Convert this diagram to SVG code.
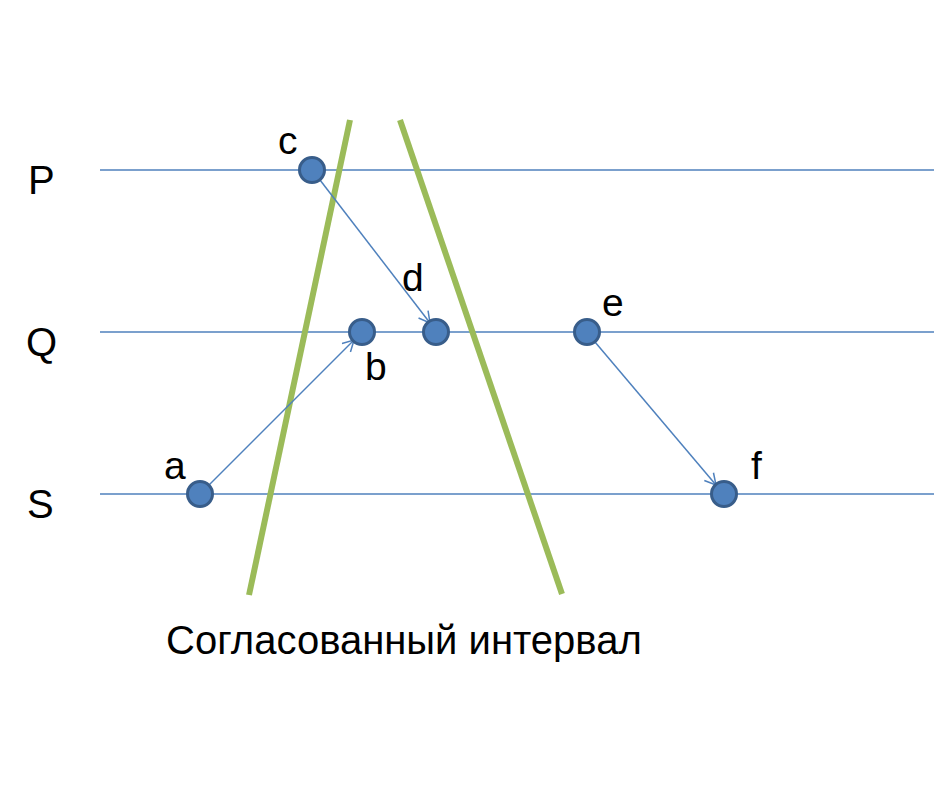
<svg xmlns="http://www.w3.org/2000/svg" width="934" height="796" viewBox="0 0 934 796">
<style>
.lane{stroke:#4F81BD;stroke-width:1.5;fill:none}
.cut{stroke:#9BBB59;stroke-width:6;stroke-linecap:butt;fill:none}
.msg{stroke:#4F81BD;stroke-width:1.5;fill:none;marker-end:url(#ah)}
.ev{fill:#4F81BD;stroke:#385D8A;stroke-width:3}
text{font-family:"Liberation Sans",Arial,sans-serif;fill:#000}
.lbl{font-size:39px}
.proc{font-size:40px}
</style>
<defs>
<marker id="ah" markerWidth="14" markerHeight="14" refX="12" refY="7" orient="auto" markerUnits="userSpaceOnUse">
<path d="M1,1 L12,7 L1,13" fill="none" stroke="#4F81BD" stroke-width="1.5"/>
</marker>
</defs>
<g id="lanes">
<line class="lane" x1="100" y1="170" x2="934" y2="170"/>
<line class="lane" x1="100" y1="332" x2="934" y2="332"/>
<line class="lane" x1="100" y1="494" x2="934" y2="494"/>
<text class="proc" x="28" y="194">P</text>
<text class="proc" x="26" y="356">Q</text>
<text class="proc" x="27" y="518">S</text>
</g>
<g id="cut">
<line class="cut" x1="350" y1="120" x2="249" y2="595"/>
<line class="cut" x1="400" y1="120" x2="562" y2="594"/>
<text x="166" y="654" style="font-size:40px">Согласованный интервал</text>
</g>
<g id="connectors">
<line class="msg" x1="320" y1="180" x2="430" y2="323"/>
<line class="msg" x1="208" y1="486" x2="354" y2="340"/>
<line class="msg" x1="595" y1="342" x2="716" y2="485"/>
</g>
<g id="node-c"><circle class="ev" cx="312" cy="170" r="12.5"/><text class="lbl" x="278" y="154">c</text></g>
<g id="node-d"><circle class="ev" cx="436" cy="332" r="12.5"/><text class="lbl" x="402" y="291">d</text></g>
<g id="node-b"><circle class="ev" cx="362" cy="332" r="12.5"/><text class="lbl" x="365" y="380">b</text></g>
<g id="node-e"><circle class="ev" cx="587" cy="332" r="12.5"/><text class="lbl" x="602" y="316">e</text></g>
<g id="node-a"><circle class="ev" cx="200" cy="494" r="12.5"/><text class="lbl" x="164" y="479">a</text></g>
<g id="node-f"><circle class="ev" cx="724" cy="494" r="12.5"/><text class="lbl" x="751" y="479">f</text></g>
</svg>
